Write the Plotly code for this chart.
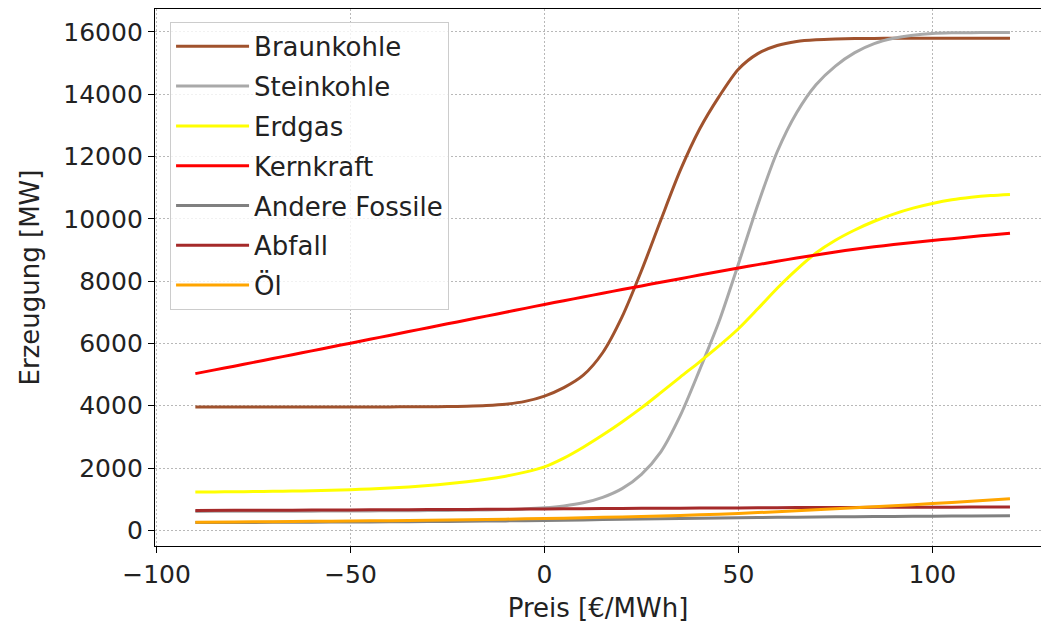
import plotly.graph_objects as go

# Preis in €/MWh
price = [-90, -85, -80, -75, -70, -65, -60, -55, -50, -45, -40, -35, -30, -25, -20,
         -15, -10, -5, 0, 5, 10, 15, 20, 25, 30, 35, 40, 45, 50, 55, 60, 65, 70,
         75, 80, 85, 90, 95, 100, 105, 110, 115, 120]
price_coarse = [-90, -80, -70, -60, -50, -40, -30, -20, -10, 0, 10, 20, 30, 40, 50,
                60, 70, 80, 90, 100, 110, 120]

# Erzeugung in MW
braunkohle = [3960, 3960, 3960, 3960, 3960, 3960, 3960, 3960, 3961, 3962, 3963, 3965,
              3968, 3974, 3986, 4008, 4050, 4140, 4310, 4580, 4980, 5700, 6850, 8330,
              9960, 11550, 12880, 13920, 14800, 15300, 15560, 15690, 15745, 15770,
              15782, 15788, 15790, 15792, 15793, 15794, 15794, 15795, 15795]
steinkohle = [610, 611, 612, 613, 615, 616, 618, 620, 622, 625, 628, 632, 636, 641,
              648, 657, 670, 690, 725, 785, 885, 1060, 1340, 1800, 2520, 3680, 5150,
              6700, 8550, 10450, 12150, 13400, 14300, 14900, 15330, 15620, 15790,
              15890, 15945, 15965, 15972, 15976, 15978]
erdgas = [1230, 1235, 1240, 1245, 1252, 1260, 1270, 1285, 1305, 1330, 1360, 1395,
          1440, 1495, 1560, 1640, 1740, 1870, 2040, 2320, 2670, 3060, 3480, 3930,
          4420, 4920, 5410, 5920, 6470, 7110, 7770, 8370, 8900, 9310, 9640, 9920,
          10150, 10340, 10490, 10610, 10690, 10745, 10780]
kernkraft = [5030, 5150, 5270, 5392, 5514, 5637, 5760, 5884, 6008, 6132, 6256, 6380,
             6504, 6628, 6752, 6876, 7000, 7125, 7250, 7370, 7490, 7610, 7728, 7845,
             7962, 8077, 8192, 8305, 8418, 8528, 8636, 8740, 8840, 8935, 9022, 9100,
             9172, 9238, 9300, 9362, 9422, 9480, 9535]
andere_fossile = [250, 254, 258, 263, 268, 275, 283, 293, 305, 320, 337, 355, 373,
                  390, 405, 418, 430, 440, 449, 457, 464, 470]
abfall = [640, 643, 647, 651, 656, 661, 667, 673, 680, 688, 696, 703, 710, 716, 722,
          728, 733, 738, 742, 745, 748, 750]
oel = [265, 272, 280, 290, 300, 312, 326, 342, 360, 380, 405, 432, 463, 500, 545,
       600, 660, 725, 790, 860, 935, 1015]

series = [
    ("Braunkohle", price, braunkohle, "#a0522d"),
    ("Steinkohle", price, steinkohle, "#a9a9a9"),
    ("Erdgas", price, erdgas, "#ffff00"),
    ("Kernkraft", price, kernkraft, "#ff0000"),
    ("Andere Fossile", price_coarse, andere_fossile, "#808080"),
    ("Abfall", price_coarse, abfall, "#a52a2a"),
    ("Öl", price_coarse, oel, "#ffa500"),
]

FONT = "DejaVu Sans"
TXT = "#222222"

fig = go.Figure()
for name, xs, ys, color in series:
    fig.add_trace(go.Scatter(
        x=xs, y=ys, name=name, legendgroup=name, mode="lines",
        line=dict(color=color, width=3, shape="spline", smoothing=0.8),
    ))

axis_common = dict(
    showline=True, linecolor="black", linewidth=1.3,
    ticks="outside", ticklen=6, tickwidth=1.3, tickcolor="black",
    showgrid=True, gridcolor="#b8b8b8", griddash="1.5px,2.5px", gridwidth=1,
    zeroline=False, tickfont=dict(family=FONT, size=25, color=TXT),
    title_font=dict(family=FONT, size=26, color=TXT),
)

fig.update_xaxes(
    range=[-100.4, 128.0], tickvals=[-100, -50, 0, 50, 100],
    mirror=True, title_text="Preis [€/MWh]", title_standoff=10, **axis_common,
)
fig.update_yaxes(
    range=[-501, 16731], tickvals=list(range(0, 16001, 2000)), tickformat="d",
    title_text="Erzeugung [MW]", title_standoff=16, **axis_common,
)

fig.update_layout(
    width=1041, height=630,
    margin=dict(l=155, r=0, t=9, b=84),
    plot_bgcolor="white", paper_bgcolor="white",
    font=dict(family=FONT, size=26, color=TXT),
    legend=dict(
        x=0.017, y=0.976, xanchor="left", yanchor="top",
        bgcolor="rgba(255,255,255,0.8)", bordercolor="#cccccc", borderwidth=1,
        font=dict(family=FONT, size=26, color=TXT),
        itemwidth=73, tracegroupgap=3,
    ),
    showlegend=True,
)

fig.write_html("out.html")
